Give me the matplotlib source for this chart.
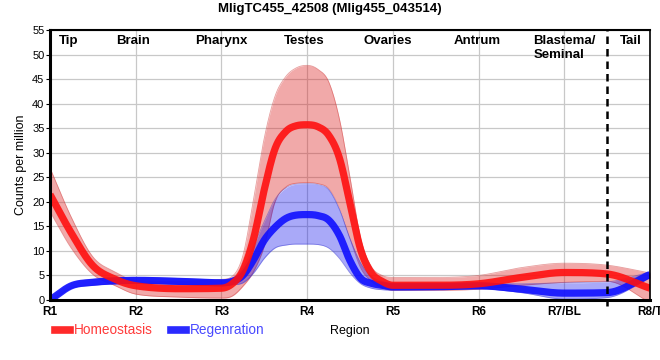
import matplotlib
matplotlib.use('Agg')
import matplotlib.pyplot as plt
from matplotlib.lines import Line2D
import numpy as np

plt.rcParams['font.family'] = ['Liberation Sans', 'DejaVu Sans']

# Data (positions in region units, R1 = 1 ... R8 = 8)
positions = [1, 1.25, 1.5, 1.75, 2, 2.5, 3,
             3.125, 3.25, 3.375, 3.5, 3.625, 3.75, 3.875, 4,
             4.125, 4.25, 4.375, 4.5, 4.625, 4.75, 4.875, 5,
             5.5, 6, 6.5, 7, 7.5, 8]
homeo_mean = [21.5, 13.6, 7.0, 4.3, 2.9, 2.3, 2.4,
              3.3, 6.0, 12.5, 22.5, 30.8, 34.3, 35.5, 35.7,
              35.3, 33.6, 29.0, 19.7, 10.2, 5.5, 3.8, 3.0,
              3.0, 3.3, 4.6, 5.6, 5.3, 2.4]
homeo_hi = [26.9, 16.8, 8.8, 5.8, 4.0, 3.8, 4.2,
            4.8, 9.0, 20.5, 33.0, 41.5, 45.5, 47.3, 47.8,
            47.0, 44.5, 37.0, 25.0, 12.5, 6.8, 5.0, 4.6,
            4.6, 5.0, 6.6, 7.5, 7.1, 5.5]
homeo_lo = [18.0, 10.5, 5.2, 3.0, 1.2, 0.6, 0.4,
            0.8, 2.8, 5.8, 11.0, 20.0, 23.0, 23.8, 23.9,
            23.7, 22.7, 18.8, 12.5, 6.5, 3.8, 2.5, 2.0,
            2.0, 2.2, 3.0, 3.6, 3.8, -0.5]
regen_mean = [0.0, 2.9, 3.6, 3.9, 4.0, 3.8, 3.5,
              3.8, 5.0, 8.2, 12.2, 14.8, 16.6, 17.3, 17.4,
              17.2, 16.3, 13.2, 8.0, 4.4, 3.4, 3.0, 2.7,
              2.7, 2.9, 2.2, 1.4, 1.5, 5.2]
regen_hi = [0.4, 3.4, 4.2, 4.5, 4.6, 4.4, 4.1,
            4.3, 6.5, 11.0, 16.0, 20.5, 22.8, 23.6, 23.7,
            23.5, 22.5, 18.5, 12.5, 7.5, 4.8, 3.8, 3.4,
            3.3, 3.4, 3.3, 3.5, 3.7, 5.7]
regen_lo = [-0.4, 2.4, 3.0, 3.3, 3.4, 3.2, 2.9,
            3.1, 3.5, 5.5, 8.5, 10.6, 11.2, 11.4, 11.4,
            11.3, 10.6, 8.5, 5.5, 3.3, 2.4, 2.1, 2.0,
            2.1, 2.3, 1.5, 0.2, 0.5, 4.5]

tick_labels = ['R1', 'R2', 'R3', 'R4', 'R5', 'R6', 'R7/BL', 'R8/T']
region_names = ['Tip', 'Brain', 'Pharynx', 'Testes', 'Ovaries', 'Antrum', 'Blastema/\nSeminal', 'Tail']
region_x = [1.22, 1.97, 3.0, 3.97, 4.94, 5.98, 6.64, 7.78]


def smooth(x, y, n=800):
    # smooth monotone cubic: finite-difference tangents, Fritsch-Carlson limited
    x = np.asarray(x, float)
    y = np.asarray(y, float)
    h = np.diff(x)
    d = np.diff(y) / h
    m = np.zeros_like(y)
    m[0], m[-1] = d[0], d[-1]
    for k in range(1, len(x) - 1):
        if d[k - 1] * d[k] > 0:
            m[k] = (y[k + 1] - y[k - 1]) / (x[k + 1] - x[k - 1])
    for k in range(len(d)):
        if d[k] == 0:
            m[k] = m[k + 1] = 0
            continue
        a, b = m[k] / d[k], m[k + 1] / d[k]
        r = a * a + b * b
        if r > 9:
            tau = 3 / np.sqrt(r)
            m[k], m[k + 1] = tau * a * d[k], tau * b * d[k]
    xs = np.linspace(x[0], x[-1], n)
    i = np.clip(np.searchsorted(x, xs) - 1, 0, len(h) - 1)
    t = (xs - x[i]) / h[i]
    h00 = 2 * t**3 - 3 * t**2 + 1
    h10 = t**3 - 2 * t**2 + t
    h01 = -2 * t**3 + 3 * t**2
    h11 = t**3 - t**2
    ys = h00 * y[i] + h10 * h[i] * m[i] + h01 * y[i + 1] + h11 * h[i] * m[i + 1]
    return xs, ys


fig = plt.figure(figsize=(6.6, 3.6), dpi=100)
ax = fig.add_axes([50 / 660, 60 / 360, 600 / 660, 270 / 360])

red_band = '#dc1e1e'
blue_band = '#0a0aeb'

xs, hh = smooth(positions, homeo_hi)
_, hl = smooth(positions, homeo_lo)
ax.fill_between(xs, hl, hh, color=red_band, alpha=0.38, lw=0, zorder=2)
ax.plot(xs, hh, color='#d04040', lw=0.6, alpha=0.5, zorder=2)
ax.plot(xs, hl, color='#d04040', lw=0.6, alpha=0.5, zorder=2)

_, rh = smooth(positions, regen_hi)
_, rl = smooth(positions, regen_lo)
ax.fill_between(xs, rl, rh, color=blue_band, alpha=0.35, lw=0, zorder=3)
ax.plot(xs, rh, color='#4040d0', lw=0.6, alpha=0.5, zorder=3)
ax.plot(xs, rl, color='#4040d0', lw=0.6, alpha=0.5, zorder=3)

_, rm = smooth(positions, regen_mean)
ax.plot(xs, rm, color='#1010ff', lw=5.2, alpha=0.9, zorder=4, solid_capstyle='butt')
_, hm = smooth(positions, homeo_mean)
ax.plot(xs, hm, color='#ff1010', lw=5.2, alpha=0.9, zorder=5, solid_capstyle='butt')

# boundary between Blastema/Seminal and Tail
ax.plot([7.5, 7.5], [-1.3, 55], color='black', lw=1.8, ls=(0, (3, 2)), zorder=6,
        clip_on=False)

ax.set_xlim(1, 8)
ax.set_ylim(0, 55)
ax.set_xticks(range(1, 9))
ax.set_xticklabels(tick_labels, fontsize=8.5, fontweight='bold')
ax.set_yticks(range(0, 56, 5))
ax.tick_params(axis='y', labelsize=8, length=3, pad=1)
ax.tick_params(axis='x', length=0, pad=4)
ax.grid(True, color='#c8c8c8', lw=0.9, zorder=0)
ax.set_axisbelow(True)
for side, w in [('left', 2.2), ('bottom', 2.2), ('top', 1.5), ('right', 1.2)]:
    ax.spines[side].set_linewidth(w)
    ax.spines[side].set_color('black')
    ax.spines[side].set_zorder(7)

for name, x in zip(region_names, region_x):
    ha = 'left' if '\n' in name else 'center'
    ax.text(x, 54, name, ha=ha, va='top', fontsize=9.5, fontweight='bold',
            linespacing=1.25, zorder=8)

ax.set_ylabel('Counts per million', fontsize=9, labelpad=4)
fig.text(0.5, 0.975, 'MligTC455_42508 (Mlig455_043514)', ha='center', va='center',
         fontsize=9.5, fontweight='bold')

# legend + axis title row
fig.add_artist(Line2D([55 / 660, 70 / 660], [30 / 360, 30 / 360], color='#ff2a2a', lw=5.5))
fig.text(74 / 660, 30 / 360, 'Homeostasis', color='#ff3a3a', fontsize=9.8, va='center')
fig.add_artist(Line2D([171 / 660, 186 / 660], [30 / 360, 30 / 360], color='#2a2aff', lw=5.5))
fig.text(190 / 660, 30 / 360, 'Regenration', color='#4a4aff', fontsize=9.8, va='center')
fig.text(330 / 660, 29 / 360, 'Region', color='black', fontsize=9, va='center')

fig.savefig('out.png', dpi=100)
